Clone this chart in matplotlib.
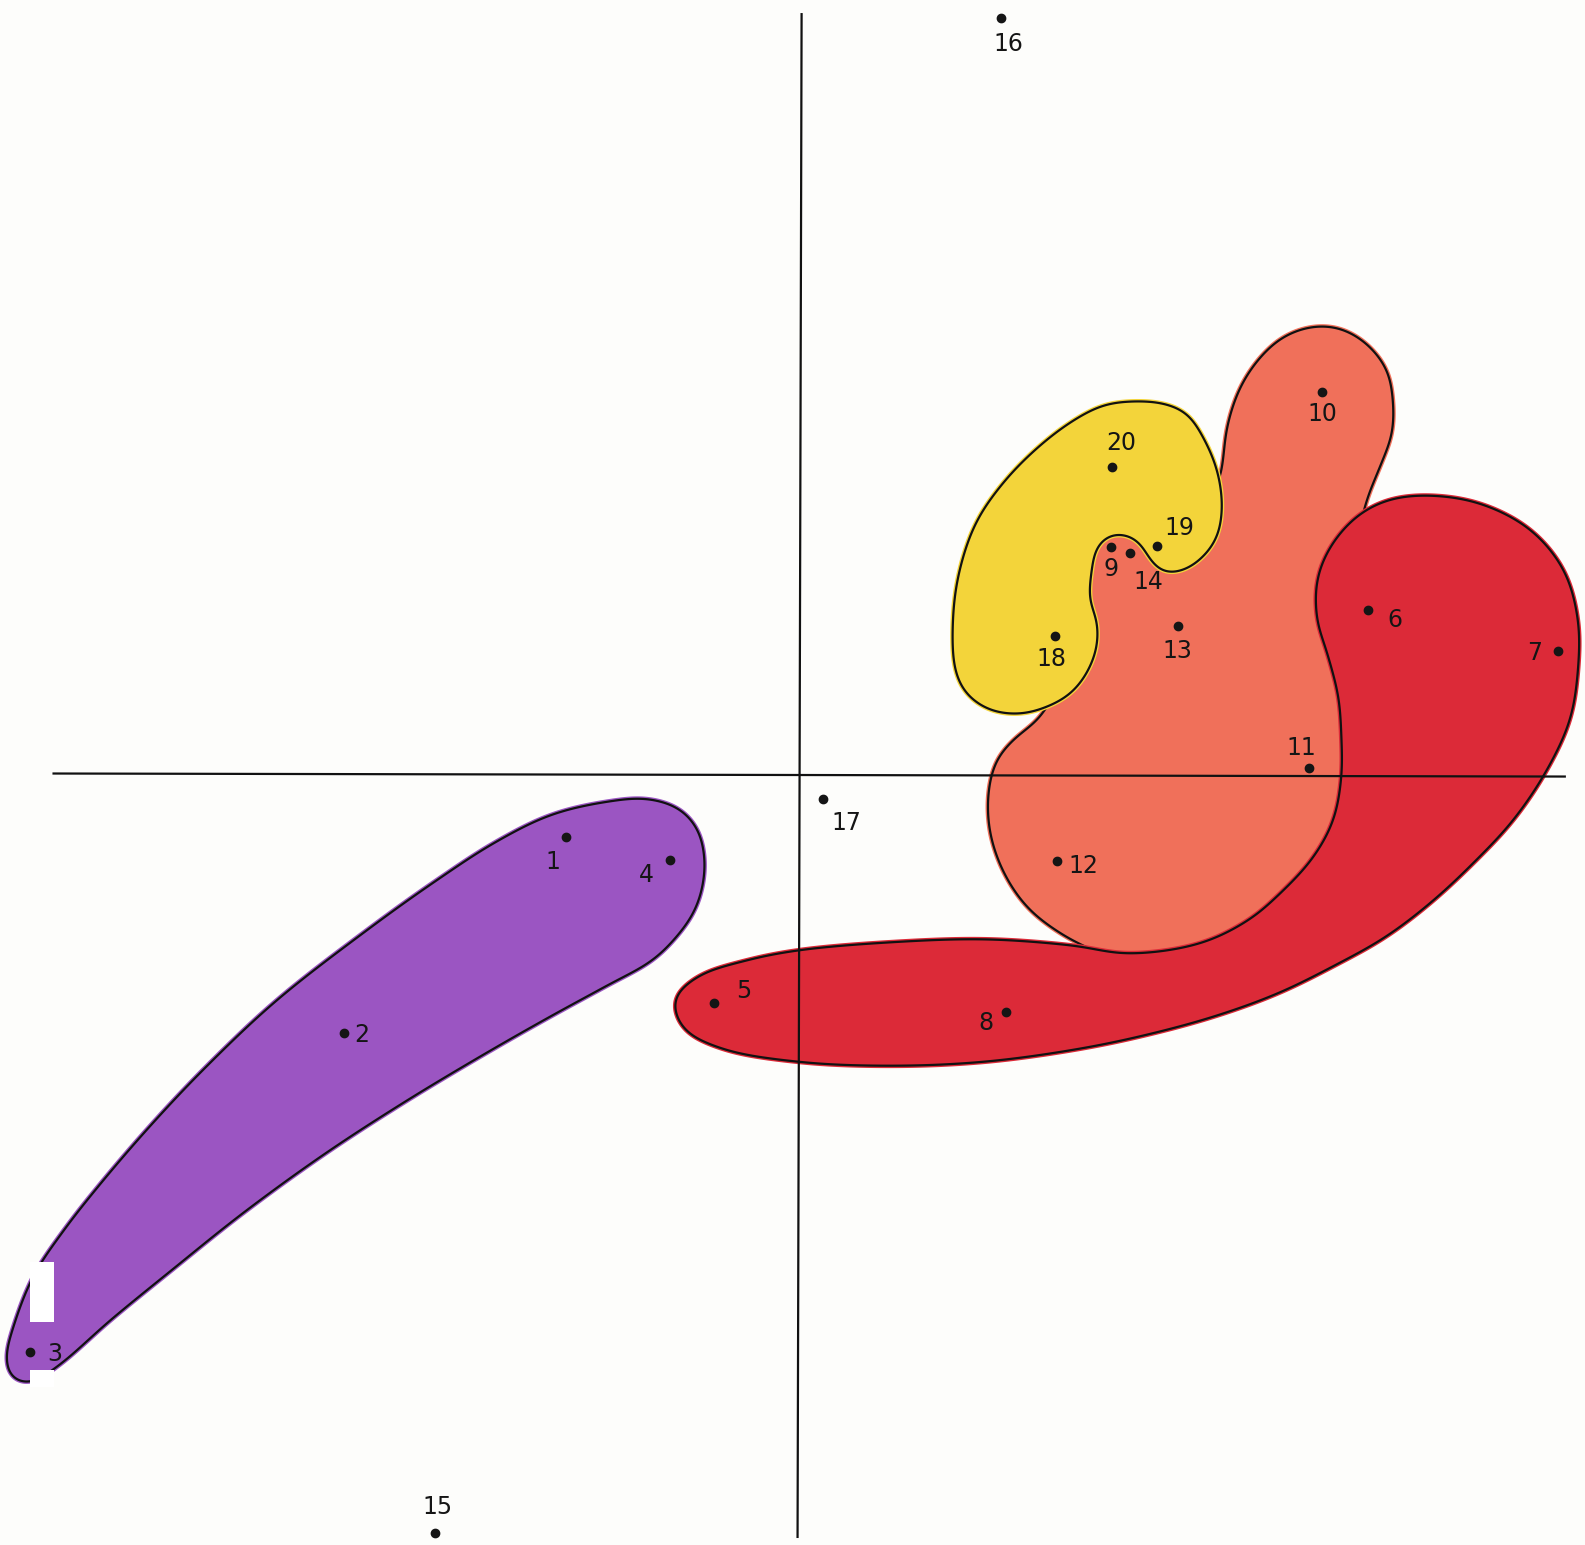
import numpy as np
import matplotlib
matplotlib.use("Agg")
import matplotlib.pyplot as plt
from matplotlib.patches import Polygon, Rectangle

# point scores (axis 1, axis 2)
labels = [str(i) for i in range(1, 21)]
xs = [-2.32, -4.52, -7.62, -1.29, -0.86, 5.61, 7.49, 2.03, 3.07, 5.16,
      5.03, 2.54, 3.73, 3.26, -3.62, 1.98, 0.22, 2.52, 3.53, 3.08]
ys = [-0.62, -2.56, -5.71, -0.85, -2.26, 1.63, 1.22, -2.35, 2.25, 3.78,
      0.06, -0.86, 1.47, 2.19, -7.50, 7.48, -0.24, 1.37, 2.26, 3.04]
# where each number sits next to its dot (pixels, right / down)
lab_dx = [-13, 18, 24, -24, 30, 27, -23, -20, 0, 0, -8, 26, 0, 18, 3, 8, 24, -4, 22, 9]
lab_dy = [25, 2, 2, 15, -12, 10, 2, 11, 22, 22, -20, 5, 25, 29, -26, 26, 24, 23, -18, -24]

# hand drawn axes
vaxis_x = [0.01, -0.03]
vaxis_y = [7.52, -7.54]
haxis_x = [-7.39, 7.56]
haxis_y = [0.01, -0.02]

# group outlines
purple_grp = [(-7.59, -4.96), (-7.29, -4.51), (-6.92, -4.04), (-6.42, -3.46), (-5.88, -2.89),
              (-5.19, -2.24), (-4.29, -1.54), (-3.62, -1.06), (-3.02, -0.67), (-2.47, -0.40),
              (-1.92, -0.27), (-1.52, -0.24), (-1.20, -0.34), (-1.02, -0.54), (-0.95, -0.82),
              (-0.97, -1.11), (-1.06, -1.37), (-1.24, -1.62), (-1.47, -1.84), (-1.92, -2.09),
              (-2.47, -2.39), (-3.12, -2.76), (-3.92, -3.24), (-4.72, -3.76), (-5.52, -4.34),
              (-6.22, -4.90), (-6.82, -5.39), (-7.36, -5.86), (-7.64, -6.02), (-7.81, -5.96),
              (-7.86, -5.77), (-7.79, -5.47)]
red_grp = [(-1.25, -2.23), (-1.02, -2.00), (-0.54, -1.84), (-0.03, -1.74), (0.88, -1.66),
           (1.82, -1.63), (2.68, -1.69), (3.24, -1.77), (3.95, -1.67), (4.43, -1.44),
           (4.74, -1.18), (5.07, -0.82), (5.27, -0.45), (5.35, -0.02), (5.35, 0.37),
           (5.32, 0.77), (5.21, 1.20), (5.11, 1.53), (5.11, 1.92), (5.24, 2.25),
           (5.50, 2.55), (5.80, 2.71), (6.19, 2.76), (6.72, 2.68), (7.22, 2.42),
           (7.55, 2.02), (7.69, 1.53), (7.69, 1.03), (7.61, 0.54), (7.38, 0.04),
           (7.05, -0.45), (6.65, -0.88), (6.23, -1.27), (5.78, -1.61), (5.28, -1.89),
           (4.73, -2.16), (4.13, -2.38), (3.48, -2.56), (2.77, -2.71), (1.82, -2.84),
           (0.88, -2.88), (-0.03, -2.84), (-0.78, -2.71), (-1.16, -2.51)]
salmon_grp = [(4.17, 3.04), (4.22, 3.44), (4.35, 3.83), (4.55, 4.13), (4.78, 4.33),
              (5.07, 4.43), (5.34, 4.41), (5.60, 4.26), (5.80, 4.00), (5.86, 3.70),
              (5.85, 3.37), (5.73, 3.04), (5.60, 2.71), (5.53, 2.36), (5.63, 1.46),
              (5.68, 0.46), (5.58, -0.54), (5.18, -1.19), (4.48, -1.62), (3.68, -1.86),
              (3.18, -1.84), (2.90, -1.74), (2.57, -1.57), (2.24, -1.31), (2.00, -0.95),
              (1.87, -0.55), (1.86, -0.16), (1.94, 0.14), (2.10, 0.34), (2.37, 0.57),
              (2.58, 0.98), (2.68, 1.66), (2.76, 2.18), (3.08, 2.51), (3.58, 2.51),
              (3.98, 2.71), (4.13, 2.88)]
yellow_grp = [(3.26, 3.69), (3.59, 3.67), (3.82, 3.57), (3.98, 3.34), (4.12, 3.01),
              (4.17, 2.65), (4.12, 2.35), (3.98, 2.15), (3.79, 2.02), (3.59, 2.00),
              (3.46, 2.12), (3.36, 2.29), (3.23, 2.37), (3.06, 2.37), (2.93, 2.25),
              (2.88, 2.02), (2.86, 1.72), (2.93, 1.53), (2.93, 1.26), (2.83, 1.00),
              (2.67, 0.80), (2.44, 0.67), (2.17, 0.60), (1.87, 0.64), (1.64, 0.80),
              (1.53, 1.03), (1.51, 1.59), (1.58, 2.05), (1.74, 2.50), (2.00, 2.88),
              (2.33, 3.22), (2.68, 3.49), (2.99, 3.65)]


def smooth_closed(pts, n=25, step=0.01, sigma=9):
    # centripetal catmull-rom through the outline points
    P = np.asarray(pts, dtype=float)
    N = len(P)
    out = []
    for i in range(N):
        p0, p1, p2, p3 = P[i - 1], P[i], P[(i + 1) % N], P[(i + 2) % N]
        t0 = 0.0
        t1 = t0 + np.linalg.norm(p1 - p0) ** 0.5
        t2 = t1 + np.linalg.norm(p2 - p1) ** 0.5
        t3 = t2 + np.linalg.norm(p3 - p2) ** 0.5
        t = np.linspace(t1, t2, n, endpoint=False)[:, None]
        a1 = (t1 - t) / (t1 - t0) * p0 + (t - t0) / (t1 - t0) * p1
        a2 = (t2 - t) / (t2 - t1) * p1 + (t - t1) / (t2 - t1) * p2
        a3 = (t3 - t) / (t3 - t2) * p2 + (t - t2) / (t3 - t2) * p3
        b1 = (t2 - t) / (t2 - t0) * a1 + (t - t0) / (t2 - t0) * a2
        b2 = (t3 - t) / (t3 - t1) * a2 + (t - t1) / (t3 - t1) * a3
        out.append((t2 - t) / (t2 - t1) * b1 + (t - t1) / (t2 - t1) * b2)
    c = np.vstack(out)
    c = np.vstack([c, c[:1]])
    # even spacing along the curve, then a soft circular blur to iron out kinks
    s = np.concatenate([[0], np.cumsum(np.hypot(*np.diff(c, axis=0).T))])
    m = int(s[-1] / step)
    u = np.linspace(0, s[-1], m, endpoint=False)
    x = np.interp(u, s, c[:, 0])
    y = np.interp(u, s, c[:, 1])
    k = np.arange(-3 * sigma, 3 * sigma + 1)
    w = np.exp(-0.5 * (k / sigma) ** 2)
    w /= w.sum()
    pad = len(k) // 2
    xs_ = np.convolve(np.concatenate([x[-pad:], x, x[:pad]]), w, mode='valid')
    ys_ = np.convolve(np.concatenate([y[-pad:], y, y[:pad]]), w, mode='valid')
    return np.column_stack([xs_, ys_])


def blob(ax, pts, color, z):
    xy = smooth_closed(pts)
    ax.add_patch(Polygon(xy, closed=True, facecolor=color, edgecolor=color,
                         lw=3.5, zorder=z))
    ax.add_patch(Polygon(xy, closed=True, fill=False, edgecolor='#111111',
                         lw=1.6, zorder=z + 0.1))


fig = plt.figure(figsize=(15.85, 15.45), dpi=100)
fig.patch.set_facecolor('#fdfdfb')
ax = fig.add_axes([0, 0, 1, 1])
ax.set_facecolor('#fdfdfb')
ax.set_xlim(-7.92, 7.76)
ax.set_ylim(-7.62, 7.66)
ax.axis('off')

blob(ax, salmon_grp, '#f0705a', 1)
blob(ax, red_grp, '#dc2a38', 2)
blob(ax, yellow_grp, '#f3d43a', 3)
blob(ax, purple_grp, '#9b55c2', 2)

# scanner marks over the purple tip
ax.add_patch(Rectangle((-7.62, -5.41), 0.23, 0.59, facecolor='white', edgecolor='none', zorder=4))
ax.add_patch(Rectangle((-7.62, -6.06), 0.23, 0.17, facecolor='white', edgecolor='none', zorder=4))

ax.plot(vaxis_x, vaxis_y, color='#111111', lw=1.6, zorder=5)
ax.plot(haxis_x, haxis_y, color='#111111', lw=1.6, zorder=5)

ax.plot(xs, ys, 'o', color='#151515', ms=6, zorder=6)
for lab, x, y, dx, dy in zip(labels, xs, ys, lab_dx, lab_dy):
    ax.annotate(lab, (x, y), xytext=(dx, -dy), textcoords='offset pixels',
                ha='center', va='center', fontsize=17, color='#151515', zorder=7)

fig.savefig('out.png', dpi=100, facecolor=fig.get_facecolor())
